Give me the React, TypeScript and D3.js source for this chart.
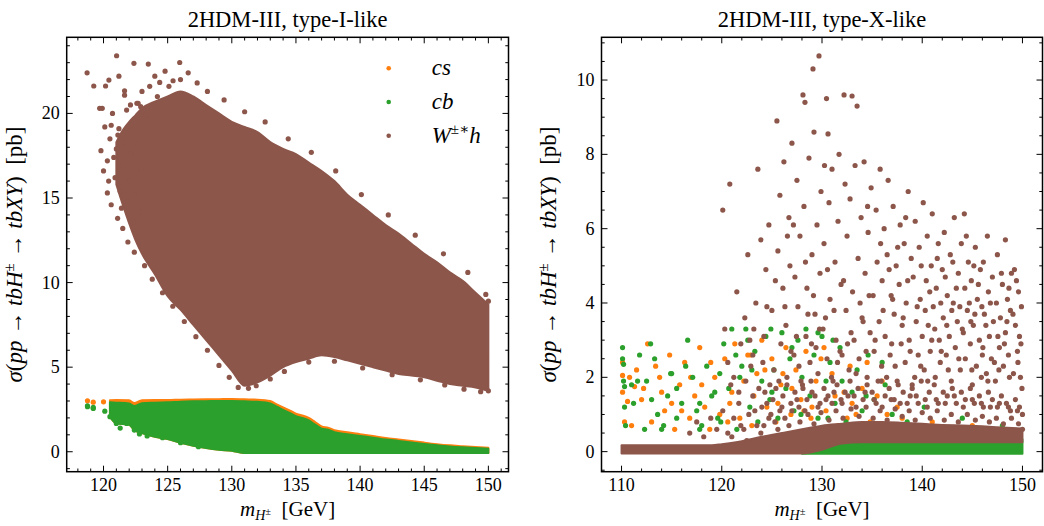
import React from "react";
import * as d3 from "d3";

// ---------------- colours ----------------
const C_CS = "#ff7f0e";
const C_CB = "#2ca02c";
const C_WH = "#8c564b";
const FONT = "'Liberation Serif', 'DejaVu Serif', serif";

// ---------------- ticks ----------------
const leftXTicks = [120, 125, 130, 135, 140, 145, 150];
const leftYTicks = [0, 5, 10, 15, 20];
const rightXTicks = [110, 120, 130, 140, 150];
const rightYTicks = [0, 2, 4, 6, 8, 10];

// ---------------- LEFT: type-I-like ----------------
// W±* h dense cloud envelope
const whBandX = [121, 121.5, 122, 122.5, 123, 124, 125, 126, 127, 128, 129, 130, 131, 132, 133, 134, 135, 136, 137, 138, 139, 140, 141, 142, 143, 144, 145, 146, 147, 148, 149, 150];
const whBandHi = [18.3, 19.0, 19.5, 19.9, 20.3, 20.7, 21.0, 21.3, 21.0, 20.5, 20.0, 19.5, 19.2, 18.9, 18.3, 17.9, 17.6, 17.1, 16.6, 16.0, 15.2, 14.6, 14.0, 13.4, 12.9, 12.3, 11.7, 11.2, 10.6, 10.1, 9.4, 8.7];
const whBandLo = [15.8, 14.6, 13.5, 12.5, 11.7, 10.5, 9.2, 8.4, 7.5, 6.6, 5.7, 4.8, 3.9, 4.1, 4.5, 5.0, 5.3, 5.5, 5.7, 5.6, 5.4, 5.2, 5.0, 4.8, 4.6, 4.5, 4.4, 4.2, 4.0, 3.9, 3.8, 3.6];
// W±* h scattered points around the cloud
const whPoints: [number, number][] = [
  [118.72, 22.4], [119.24, 21.62], [119.9, 20.3], [120.16, 21.62], [120.42, 21.97], [121.02, 23.41],
  [121.2, 22.2], [121.12, 18.72], [121.64, 21.34], [121.64, 21.08], [122.37, 22.96], [123.49, 22.92],
  [125.94, 23.01], [124.38, 21.83], [125.42, 21.93], [122.1, 20.5], [122.6, 20.6], [122.9, 20.4],
  [119.7, 20.3], [119.8, 17.8], [120.0, 16.6], [120.1, 19.2], [120.3, 17.2], [120.3, 15.3], [120.5, 18.5],
  [120.6, 14.6], [120.7, 20.0], [120.9, 16.2], [121.0, 17.9], [121.1, 13.8], [121.2, 19.1], [121.3, 15.4],
  [121.5, 13.2], [121.5, 16.9], [121.6, 18.3], [121.8, 20.2], [121.9, 12.4], [121.9, 14.8], [122.0, 16.0],
  [122.1, 17.6], [122.2, 19.0], [122.3, 13.6], [122.4, 11.8], [122.4, 15.2], [122.6, 18.2], [122.7, 20.6],
  [122.8, 12.7], [122.8, 14.2], [122.9, 16.7], [123.0, 21.3], [123.2, 11.0], [123.3, 19.9], [123.6, 21.6],
  [124.0, 22.2], [124.2, 21.0], [124.8, 22.5], [125.1, 21.6], [126.0, 22.0], [123.8, 10.2], [124.6, 9.4],
  [125.4, 8.6], [126.3, 7.7], [127.2, 6.8], [128.1, 6.0], [129.0, 5.1], [129.8, 4.4], [130.5, 3.8],
  [131.3, 3.75], [131.9, 3.9], [126.6, 22.4], [127.3, 21.8], [128.1, 21.3], [129.4, 20.8], [131.0, 20.1],
  [132.6, 19.5], [134.4, 18.5], [136.2, 17.7], [138.1, 16.6], [140.1, 15.2], [142.2, 14.0], [144.3, 12.8],
  [146.5, 11.7], [148.4, 10.6], [149.8, 9.3], [150.0, 8.9], [150.0, 3.6], [149.4, 3.55], [148.1, 3.7],
  [146.6, 3.95], [144.7, 4.25], [142.5, 4.55], [140.2, 4.95], [138.0, 5.35], [136.0, 5.3], [134.1, 4.75],
  [133.0, 4.3], [120.4, 16.0], [120.8, 17.4], [121.4, 14.4], [120.6, 19.3],
];

// cs / cb band
const bandX = [120.5, 121, 122, 122.4, 123, 124, 125, 126, 127, 128, 129, 130, 131, 132, 133, 133.5, 134, 134.5, 135, 135.5, 136, 136.5, 137, 137.5, 138, 139, 140, 141, 142, 143, 144, 145, 146, 147, 148, 149, 150];
const csHi = [3.05, 3.06, 3.04, 2.88, 3.05, 3.06, 3.06, 3.08, 3.09, 3.1, 3.11, 3.12, 3.1, 3.08, 3.0, 2.8, 2.62, 2.45, 2.25, 2.15, 2.0, 1.75, 1.5, 1.42, 1.28, 1.15, 1.04, 0.93, 0.82, 0.73, 0.64, 0.54, 0.45, 0.38, 0.33, 0.28, 0.24];
const cbHi = [2.92, 2.9, 2.85, 2.7, 2.86, 2.9, 2.92, 2.96, 2.98, 2.99, 3.0, 3.0, 2.98, 2.95, 2.86, 2.66, 2.48, 2.3, 2.1, 2.0, 1.85, 1.6, 1.37, 1.3, 1.16, 1.04, 0.93, 0.83, 0.72, 0.64, 0.55, 0.46, 0.38, 0.31, 0.26, 0.22, 0.18];
const cbLo = [2.07, 1.67, 1.6, 1.28, 1.1, 0.88, 0.75, 0.53, 0.36, 0.22, 0.12, 0.06, -0.08, -0.08, -0.08, -0.08, -0.08, -0.08, -0.08, -0.08, -0.08, -0.08, -0.08, -0.08, -0.08, -0.08, -0.08, -0.08, -0.08, -0.08, -0.08, -0.08, -0.08, -0.08, -0.08, -0.08, -0.08];
const csPoints: [number, number][] = [[118.75, 3.01], [119.2, 2.93], [122.0, 2.2], [121.6, 2.35], [120.0, 2.95]];
const cbPoints: [number, number][] = [[118.75, 2.72], [118.75, 2.66], [119.2, 2.62], [119.2, 2.56], [120.5, 2.07], [121.0, 1.67], [121.8, 1.67], [122.4, 1.28], [123.4, 0.93], [124.6, 0.83], [126.0, 0.53], [127.4, 0.3], [120.1, 2.4], [121.3, 1.4], [122.8, 1.05]];

// ---------------- RIGHT: type-X-like ----------------
const xCs: [number, number][] = [
  [110.1, 2.4], [110.1, 2.05], [110.1, 1.6], [110.3, 0.8], [110.8, 2.0], [111.0, 0.7], [111.5, 2.2], [112.0, 1.4],
  [112.6, 2.9], [113.0, 0.8], [113.8, 2.0], [114.3, 1.1], [114.8, 2.6], [115.3, 0.6], [115.8, 1.8], [116.3, 2.4],
  [116.8, 0.9], [117.3, 1.5], [117.8, 2.8], [118.3, 1.2], [118.8, 0.6], [119.3, 2.0], [119.8, 1.0], [120.3, 2.5],
  [120.8, 1.3], [121.3, 2.9], [121.8, 0.9], [122.2, 1.9], [122.6, 2.6], [123.0, 0.7], [123.5, 2.1], [124.0, 3.0],
  [124.5, 1.2], [125.0, 2.5], [125.4, 0.8], [125.9, 1.8], [126.4, 2.8], [126.9, 1.0], [127.4, 2.2], [127.9, 1.4],
  [128.4, 2.7], [128.9, 0.9], [129.4, 1.9], [129.9, 2.5], [130.4, 1.1], [131.0, 2.1], [131.6, 0.7], [132.2, 1.6],
  [132.8, 2.3], [133.4, 1.0], [134.0, 1.7], [134.8, 0.8], [135.5, 1.5], [136.5, 1.0], [138.0, 0.9], [139.5, 0.6],
  [141.0, 0.8], [143.0, 0.5], [145.0, 0.7], [147.0, 0.5], [112.2, 1.7], [114.0, 1.6], [116.0, 1.1], [118.0, 1.8],
  [121.0, 1.6], [123.2, 1.5], [125.6, 1.3], [127.0, 1.7], [129.0, 1.2], [131.3, 1.5], [133.0, 1.3], [137.5, 1.2],
  [110.6, 1.35], [111.3, 1.75], [113.4, 2.3], [115.0, 1.3], [116.9, 2.0], [118.9, 2.4], [120.6, 0.8], [122.9, 2.6],
  [124.3, 2.2], [126.1, 2.1], [128.2, 1.1], [130.2, 2.8], [132.5, 0.9], [134.5, 2.4], [136.0, 1.9],
];
const xCb: [number, number][] = [
  [110.1, 2.8], [110.1, 2.5], [110.2, 1.9], [110.3, 1.75], [110.4, 0.7], [111.0, 1.8], [111.2, 1.3], [111.8, 2.6],
  [112.3, 0.6], [112.5, 1.9], [113.3, 2.5], [113.6, 1.0], [114.0, 0.6], [114.6, 1.5], [115.0, 2.1], [115.5, 0.9],
  [116.0, 1.3], [116.6, 3.0], [117.1, 2.0], [117.5, 1.1], [118.0, 0.7], [118.5, 2.3], [119.0, 1.5], [119.6, 0.9],
  [120.2, 2.9], [120.7, 1.7], [121.0, 3.3], [121.5, 0.6], [122.0, 2.3], [122.4, 3.3], [122.8, 1.2], [123.3, 2.7],
  [123.6, 0.8], [124.0, 1.9], [124.4, 3.1], [124.8, 1.4], [125.2, 2.2], [125.6, 0.9], [126.0, 3.2], [126.4, 1.7],
  [126.8, 2.5], [127.2, 1.1], [127.6, 3.0], [128.0, 2.0], [128.4, 3.3], [128.8, 1.5], [129.2, 2.6], [129.6, 0.9],
  [130.0, 3.1], [130.4, 1.9], [130.8, 2.4], [131.3, 1.3], [131.8, 2.8], [132.4, 0.8], [133.0, 1.6], [133.5, 2.2],
  [134.0, 1.1], [134.6, 2.6], [135.2, 1.4], [135.8, 0.7], [136.3, 1.8], [137.0, 1.0], [138.5, 0.8], [140.2, 1.2],
  [142.0, 0.6], [144.0, 0.9], [146.0, 0.5], [148.0, 0.7], [113.0, 1.4], [115.5, 1.7], [117.8, 1.3], [119.8, 2.1],
  [121.8, 2.0], [123.0, 2.2], [125.0, 1.6], [127.9, 1.0], [130.6, 0.9], [132.0, 1.9], [134.4, 1.5], [136.0, 2.4],
  [110.2, 2.35], [110.3, 1.2], [111.6, 1.9], [112.9, 2.9], [114.2, 0.7], [114.9, 2.1], [116.4, 2.3], [117.8, 0.6],
  [119.3, 1.6], [119.9, 0.8], [121.4, 2.6], [122.6, 3.0], [124.9, 3.3], [127.0, 2.8], [129.6, 3.2], [131.1, 3.0],
];
const xWh: [number, number][] = [
  [120.1, 6.5], [120.8, 7.2], [120.3, 3.3], [120.6, 2.4], [120.9, 1.8], [121.5, 4.3], [121.2, 2.0], [121.9, 2.9], [121.7, 1.6],
  [122.3, 3.6], [122.6, 5.3], [122.9, 2.3], [122.4, 1.9], [122.8, 3.0], [123.4, 4.0], [123.6, 7.6], [123.9, 5.7], [123.1, 2.6], [123.7, 1.7], [123.2, 3.3],
  [124.2, 3.1], [124.4, 4.9], [124.7, 6.1], [124.8, 1.8], [124.1, 2.4], [124.5, 3.9],
  [125.5, 8.9], [125.6, 5.4], [125.8, 6.9], [125.9, 2.9], [125.0, 3.8], [125.2, 2.2], [125.35, 4.6], [125.7, 1.9],
  [126.1, 4.4], [126.2, 7.8], [126.4, 3.4], [126.5, 2.0], [126.7, 6.3], [126.8, 5.0], [126.9, 2.7], [126.3, 3.9], [126.55, 5.8],
  [127.0, 8.3], [127.2, 2.6], [127.3, 4.7], [127.5, 7.3], [127.6, 3.9], [127.8, 5.8], [127.9, 1.9], [127.45, 3.1], [127.7, 2.3], [127.15, 6.1],
  [128.1, 9.6], [128.3, 9.4], [128.2, 6.6], [128.4, 3.1], [128.5, 4.4], [128.7, 7.9], [128.8, 2.4], [128.95, 2.9], [128.6, 3.7], [128.35, 5.1], [128.05, 1.8],
  [129.1, 10.3], [129.2, 8.6], [129.3, 3.7], [129.5, 6.1], [129.6, 2.1], [129.7, 10.65], [129.8, 4.8], [129.9, 7.0], [129.0, 5.3], [129.4, 2.8], [129.75, 3.3], [129.15, 4.2],
  [130.1, 3.3], [130.2, 5.6], [130.45, 9.5], [130.6, 8.55], [130.5, 2.5], [130.7, 6.7], [130.8, 4.1], [130.95, 2.0], [130.35, 3.6], [130.55, 4.9], [130.25, 7.7],
  [131.0, 7.6], [131.1, 1.9], [131.3, 5.1], [131.4, 3.0], [131.6, 6.2], [131.7, 8.0], [131.9, 4.5], [131.55, 2.4], [131.2, 3.8], [131.8, 2.7],
  [132.0, 2.6], [132.2, 9.6], [132.3, 7.2], [132.4, 3.8], [132.5, 5.8], [132.7, 2.2], [132.8, 6.8], [132.15, 4.6], [132.9, 3.2], [132.55, 2.9],
  [133.0, 9.57], [133.05, 4.3], [133.2, 3.0], [133.3, 7.7], [133.5, 9.3], [133.6, 5.2], [133.7, 2.5], [133.9, 6.3], [134.0, 3.6], [133.4, 2.1], [133.8, 4.0],
  [134.2, 7.8], [134.3, 4.8], [134.5, 2.0], [134.6, 5.9], [134.8, 3.2], [134.9, 7.1], [134.4, 2.7], [134.7, 4.2], [134.1, 3.5], [134.55, 6.6],
  [135.1, 4.2], [135.2, 2.7], [135.4, 6.5], [135.5, 5.1], [135.7, 3.5], [135.8, 7.6], [135.95, 2.3], [136.0, 4.6], [135.6, 1.9], [135.3, 3.0], [135.85, 5.6],
  [136.2, 6.0], [136.3, 3.1], [136.5, 5.3], [136.6, 7.3], [136.8, 2.6], [136.9, 4.2], [136.45, 2.0], [136.1, 3.8], [136.7, 4.9], [136.95, 2.9],
  [137.1, 6.6], [137.2, 3.7], [137.4, 5.0], [137.5, 1.9], [137.7, 4.5], [137.8, 6.1], [137.9, 2.9], [138.0, 3.4], [137.3, 2.3], [137.55, 5.5], [137.05, 4.1],
  [138.2, 5.6], [138.3, 2.4], [138.4, 4.0], [138.6, 7.0], [138.7, 3.0], [138.9, 5.2], [139.0, 1.8], [138.1, 3.6], [138.55, 4.6], [138.8, 2.7], [138.35, 6.3],
  [139.1, 4.7], [139.3, 6.2], [139.4, 3.5], [139.6, 2.6], [139.7, 5.5], [139.8, 4.1], [140.0, 3.1], [139.25, 2.0], [139.5, 3.9], [139.9, 5.0], [139.85, 2.3],
  [140.1, 6.7], [140.2, 2.2], [140.4, 4.6], [140.5, 5.8], [140.6, 3.4], [140.8, 2.7], [140.9, 5.0], [140.3, 3.8], [140.75, 4.3], [140.55, 1.9], [140.95, 3.0],
  [141.0, 6.4], [141.1, 3.9], [141.3, 2.0], [141.4, 4.4], [141.6, 5.6], [141.7, 3.0], [141.8, 2.4], [142.0, 4.9], [141.25, 3.3], [141.5, 5.2], [141.9, 2.7], [141.85, 4.0],
  [142.1, 3.6], [142.2, 5.9], [142.4, 2.6], [142.5, 4.2], [142.7, 3.1], [142.8, 5.3], [142.9, 1.9], [142.3, 4.7], [142.6, 2.2], [142.95, 3.8], [142.45, 3.4],
  [143.1, 4.0], [143.2, 6.3], [143.3, 2.8], [143.5, 3.5], [143.6, 4.8], [143.8, 2.2], [143.9, 5.6], [144.0, 3.3], [143.4, 4.4], [143.65, 2.5], [143.75, 3.9], [143.05, 5.1],
  [144.2, 6.4], [144.25, 4.4], [144.3, 2.5], [144.5, 3.8], [144.6, 5.1], [144.8, 2.9], [144.9, 4.6], [145.0, 1.8], [144.1, 3.2], [144.7, 4.0], [144.4, 5.8], [144.95, 2.2], [144.85, 3.5],
  [145.1, 3.4], [145.3, 5.5], [145.4, 2.3], [145.5, 4.1], [145.7, 3.0], [145.8, 4.9], [146.0, 2.6], [145.25, 3.7], [145.6, 4.5], [145.9, 2.0], [145.95, 3.9], [145.15, 5.0],
  [146.1, 5.1], [146.2, 3.7], [146.4, 2.1], [146.5, 5.8], [146.6, 4.3], [146.7, 3.1], [146.9, 2.5], [147.0, 4.7], [146.35, 3.4], [146.05, 2.8], [146.8, 4.0], [146.55, 1.9],
  [147.1, 3.5], [147.3, 1.9], [147.4, 4.0], [147.5, 5.3], [147.7, 2.8], [147.8, 3.6], [148.0, 4.5], [147.2, 2.4], [147.55, 3.1], [147.9, 4.8], [147.65, 2.2],
  [148.1, 2.3], [148.3, 5.7], [148.3, 3.2], [148.5, 4.1], [148.6, 2.6], [148.8, 3.8], [148.9, 4.8], [148.2, 2.9], [148.45, 3.5], [148.7, 2.0], [148.65, 4.4],
  [149.1, 2.1], [149.2, 4.9], [149.3, 3.4], [149.5, 2.7], [149.6, 4.3], [149.7, 3.1], [149.8, 2.0], [149.9, 3.9], [149.95, 1.7], [149.4, 4.6], [149.55, 2.4], [149.05, 3.7], [149.85, 2.9],
  // lower, denser part
  [116.8, 0.5], [117.5, 0.8], [118.2, 0.4], [118.9, 0.9], [119.5, 0.6], [120.1, 1.1], [120.6, 0.5], [121.2, 0.9], [121.7, 1.3], [122.2, 0.6],
  [122.7, 1.0], [123.1, 1.5], [123.5, 0.7], [124.0, 1.2], [124.3, 1.6], [124.7, 0.9], [125.1, 1.4], [125.4, 1.7], [125.8, 1.1], [126.1, 1.5],
  [126.5, 1.8], [126.9, 1.3], [127.3, 1.6], [127.7, 1.2], [128.1, 1.7], [128.5, 1.4], [128.9, 1.9], [129.3, 1.5], [129.8, 1.3], [130.2, 1.7],
  [130.6, 1.5], [131.0, 1.3], [131.5, 1.8], [131.9, 1.4], [132.3, 1.6], [132.8, 1.9], [133.2, 1.5], [133.6, 1.7], [134.1, 1.4], [134.5, 1.8],
  [135.0, 1.6], [135.4, 1.3], [135.9, 1.9], [136.3, 1.5], [136.7, 1.7], [137.2, 1.4], [137.6, 1.8], [138.1, 1.6], [138.5, 1.3], [139.0, 1.7],
  [139.4, 1.5], [139.9, 1.9], [140.3, 1.4], [140.7, 1.6], [141.2, 1.8], [141.6, 1.3], [142.1, 1.6], [142.5, 1.5], [143.0, 1.7], [143.4, 1.3],
  [143.9, 1.6], [144.3, 1.4], [144.8, 1.7], [145.2, 1.3], [145.7, 1.5], [146.1, 1.2], [146.6, 1.6], [147.0, 1.4], [147.5, 1.2], [147.9, 1.5],
  [148.4, 1.3], [148.8, 1.1], [149.3, 1.4], [149.7, 1.2], [150.0, 1.0],
  [121.0, 0.4], [121.9, 0.7], [122.5, 0.3], [123.3, 1.1], [123.9, 0.5], [124.5, 1.3], [125.3, 0.8], [126.0, 1.2], [126.7, 0.7], [127.5, 1.4],
  [128.3, 1.1], [129.0, 1.6], [129.6, 1.2], [130.4, 1.4], [131.2, 1.6], [132.0, 1.3], [132.6, 1.5], [133.4, 1.2], [134.3, 1.6], [135.2, 1.4],
  [136.0, 1.2], [136.9, 1.4], [137.8, 1.3], [138.8, 1.5], [139.6, 1.3], [140.5, 1.2], [141.4, 1.4], [142.3, 1.3], [143.2, 1.5], [144.1, 1.2],
  [145.0, 1.4], [145.9, 1.3], [146.8, 1.2], [147.7, 1.3], [148.6, 1.2], [149.5, 1.1],
  [124.2, 0.7], [124.9, 1.0], [125.6, 0.6], [126.3, 0.9], [127.0, 1.1], [127.8, 0.8], [128.6, 1.0], [129.2, 0.75], [129.9, 1.05], [130.7, 0.85],
  [131.4, 1.1], [132.1, 0.9], [132.9, 1.15], [133.7, 0.95], [134.4, 1.2], [135.1, 0.9], [135.8, 1.1], [136.5, 0.85], [137.3, 1.15], [138.0, 0.95],
  [138.7, 1.1], [139.3, 0.85], [140.0, 1.05], [140.8, 0.9], [141.5, 1.1], [142.2, 0.85], [142.9, 1.0], [143.6, 0.8], [144.5, 1.0], [145.3, 0.85],
  [146.0, 0.95], [146.7, 0.8], [147.4, 0.9], [148.1, 0.75], [148.9, 0.9], [149.6, 0.75], [150.0, 0.6],
];
// dense bottom strips (type-X-like)
const xWhBandX = [110, 119, 120, 122, 124, 126, 128, 130, 132, 134, 136, 138, 140, 142, 144, 146, 148, 150];
const xWhBandHi = [0.17, 0.17, 0.2, 0.28, 0.4, 0.5, 0.6, 0.7, 0.75, 0.8, 0.8, 0.78, 0.75, 0.72, 0.7, 0.68, 0.65, 0.62];
const xWhBandLo = [-0.05, -0.05, -0.05, -0.05, -0.05, -0.05, -0.05, 0.05, 0.22, 0.25, 0.25, 0.25, 0.25, 0.25, 0.25, 0.25, 0.25, 0.25];
const xCbBandX = [128, 130, 132, 135, 140, 145, 150];
const xCbBandHi = [0.1, 0.2, 0.27, 0.3, 0.3, 0.3, 0.33];

type Pt = [number, number];

function Axes(props: {
  x0: number; x1: number; y0: number; y1: number;
  xs: d3.ScaleLinear<number, number>; ys: d3.ScaleLinear<number, number>;
  xTicks: number[]; yTicks: number[]; xMinor: number; yMinor: number;
  id: string; title: string; children: React.ReactNode; ylabX: number;
}) {
  const { x0, x1, y0, y1, xs, ys, xTicks, yTicks, xMinor, yMinor, id, title, children, ylabX } = props;
  const [xd0, xd1] = xs.domain();
  const [yd0, yd1] = ys.domain();
  const xMin = d3.range(Math.ceil(xd0 / xMinor) * xMinor, xd1 + 1e-9, xMinor).filter(v => !xTicks.some(t => Math.abs(t - v) < 1e-6));
  const yMin = d3.range(Math.ceil(yd0 / yMinor) * yMinor, yd1 + 1e-9, yMinor).filter(v => !yTicks.some(t => Math.abs(t - v) < 1e-6));
  const MJ = 6, MN = 3.2;
  const cx = (x0 + x1) / 2, cy = (y0 + y1) / 2;
  return (
    <g>
      <defs>
        <clipPath id={id}><rect x={x0} y={y0} width={x1 - x0} height={y1 - y0} /></clipPath>
      </defs>
      <g clipPath={`url(#${id})`}>{children}</g>
      <g stroke="#000" strokeWidth={1}>
        {xTicks.map(t => (
          <g key={"xt" + t}>
            <line x1={xs(t)} x2={xs(t)} y1={y1} y2={y1 - MJ} />
            <line x1={xs(t)} x2={xs(t)} y1={y0} y2={y0 + MJ} />
          </g>
        ))}
        {xMin.map(t => (
          <g key={"xm" + t}>
            <line x1={xs(t)} x2={xs(t)} y1={y1} y2={y1 - MN} />
            <line x1={xs(t)} x2={xs(t)} y1={y0} y2={y0 + MN} />
          </g>
        ))}
        {yTicks.map(t => (
          <g key={"yt" + t}>
            <line x1={x0} x2={x0 + MJ} y1={ys(t)} y2={ys(t)} />
            <line x1={x1} x2={x1 - MJ} y1={ys(t)} y2={ys(t)} />
          </g>
        ))}
        {yMin.map(t => (
          <g key={"ym" + t}>
            <line x1={x0} x2={x0 + MN} y1={ys(t)} y2={ys(t)} />
            <line x1={x1} x2={x1 - MN} y1={ys(t)} y2={ys(t)} />
          </g>
        ))}
      </g>
      <rect x={x0} y={y0} width={x1 - x0} height={y1 - y0} fill="none" stroke="#000" strokeWidth={1.5} />
      {xTicks.map(t => (
        <text key={"xl" + t} x={xs(t)} y={y1 + 19} textAnchor="middle" fontSize={18}>{t}</text>
      ))}
      {yTicks.map(t => (
        <text key={"yl" + t} x={x0 - 7} y={ys(t) + 6} textAnchor="end" fontSize={18}>{t}</text>
      ))}
      <text x={cx} y={27} textAnchor="middle" fontSize={22.5}>{title}</text>
      <text x={cx} y={516} textAnchor="middle" fontSize={21}>
        <tspan fontStyle="italic">m</tspan>
        <tspan fontStyle="italic" fontSize={14} dy={4}>H</tspan>
        <tspan fontSize={10.5} dy={-5}>±</tspan>
        <tspan dy={1}>{"\u2002[GeV]"}</tspan>
      </text>
      <text transform={`translate(${ylabX},${cy}) rotate(-90)`} textAnchor="middle" fontSize={23}>
        <tspan fontStyle="italic">σ</tspan>
        <tspan>(</tspan>
        <tspan fontStyle="italic">pp</tspan>
        <tspan>{" \u2192 "}</tspan>
        <tspan fontStyle="italic">tbH</tspan>
        <tspan fontSize={15} dy={-8}>±</tspan>
        <tspan dy={8}>{" \u2192 "}</tspan>
        <tspan fontStyle="italic">tbXY</tspan>
        <tspan>{")\u2002[pb]"}</tspan>
      </text>
    </g>
  );
}

function Band(props: { xs: any; ys: any; x: number[]; lo: number[]; hi: number[]; color: string }) {
  const { xs, ys, x, lo, hi, color } = props;
  const idx = x.map((_, i) => i);
  const area = d3.area<number>().x(i => xs(x[i])).y0(i => ys(lo[i])).y1(i => ys(hi[i])).curve(d3.curveMonotoneX);
  return <path d={area(idx) || ""} fill={color} stroke={color} strokeWidth={2} strokeLinejoin="round" />;
}

function Dots(props: { xs: any; ys: any; pts: Pt[]; color: string; r?: number }) {
  const { xs, ys, pts, color, r = 2.6 } = props;
  return <g fill={color}>{pts.map((p, i) => <circle key={i} cx={xs(p[0])} cy={ys(p[1])} r={r} />)}</g>;
}

export default function App() {
  const L = { x0: 66.7, x1: 508.5, y0: 37.3, y1: 471.7 };
  const R = { x0: 601.5, x1: 1042.5, y0: 37.3, y1: 471.7 };
  const xsL = d3.scaleLinear().domain([117.13, 151.57]).range([L.x0, L.x1]);
  const ysL = d3.scaleLinear().domain([-1.18, 24.5]).range([L.y1, L.y0]);
  const xsR = d3.scaleLinear().domain([108, 152]).range([R.x0, R.x1]);
  const ysR = d3.scaleLinear().domain([-0.54, 11.15]).range([R.y1, R.y0]);

  const legend = [
    { label: <tspan fontStyle="italic">cs</tspan>, color: C_CS },
    { label: <tspan fontStyle="italic">cb</tspan>, color: C_CB },
    {
      label: (
        <>
          <tspan fontStyle="italic">W</tspan>
          <tspan fontSize={15} dy={-9}>±∗</tspan>
          <tspan fontStyle="italic" dy={9}>h</tspan>
        </>
      ), color: C_WH,
    },
  ];

  return (
    <svg width={1044} height={526} style={{ position: "absolute", left: 0, top: 0, background: "#fff" }} fontFamily={FONT}>
      <rect width={1044} height={526} fill="#fff" />
      <Axes {...L} xs={xsL} ys={ysL} xTicks={leftXTicks} yTicks={leftYTicks} xMinor={1} yMinor={1} id="clipL" title="2HDM-III, type-I-like" ylabX={22}>
        <Band xs={xsL} ys={ysL} x={bandX} lo={cbLo} hi={csHi} color={C_CS} />
        <Dots xs={xsL} ys={ysL} pts={csPoints} color={C_CS} />
        <Band xs={xsL} ys={ysL} x={bandX} lo={cbLo} hi={cbHi} color={C_CB} />
        <Dots xs={xsL} ys={ysL} pts={cbPoints} color={C_CB} />
        <Band xs={xsL} ys={ysL} x={whBandX} lo={whBandLo} hi={whBandHi} color={C_WH} />
        <Dots xs={xsL} ys={ysL} pts={whPoints} color={C_WH} />
      </Axes>
      {legend.map((d, i) => (
        <g key={i}>
          <circle cx={388.7} cy={68.3 + i * 33.7} r={2.3} fill={d.color} />
          <text x={431.7} y={68.3 + i * 33.7 + 7} fontSize={23}>{d.label}</text>
        </g>
      ))}
      <Axes {...R} xs={xsR} ys={ysR} xTicks={rightXTicks} yTicks={rightYTicks} xMinor={2} yMinor={0.5} id="clipR" title="2HDM-III, type-X-like" ylabX={556}>
        <Dots xs={xsR} ys={ysR} pts={xCs} color={C_CS} />
        <Band xs={xsR} ys={ysR} x={xCbBandX} lo={xCbBandX.map(() => -0.06)} hi={xCbBandHi} color={C_CB} />
        <Dots xs={xsR} ys={ysR} pts={xCb} color={C_CB} />
        <Band xs={xsR} ys={ysR} x={xWhBandX} lo={xWhBandLo} hi={xWhBandHi} color={C_WH} />
        <Dots xs={xsR} ys={ysR} pts={xWh} color={C_WH} />
      </Axes>
    </svg>
  );
}
